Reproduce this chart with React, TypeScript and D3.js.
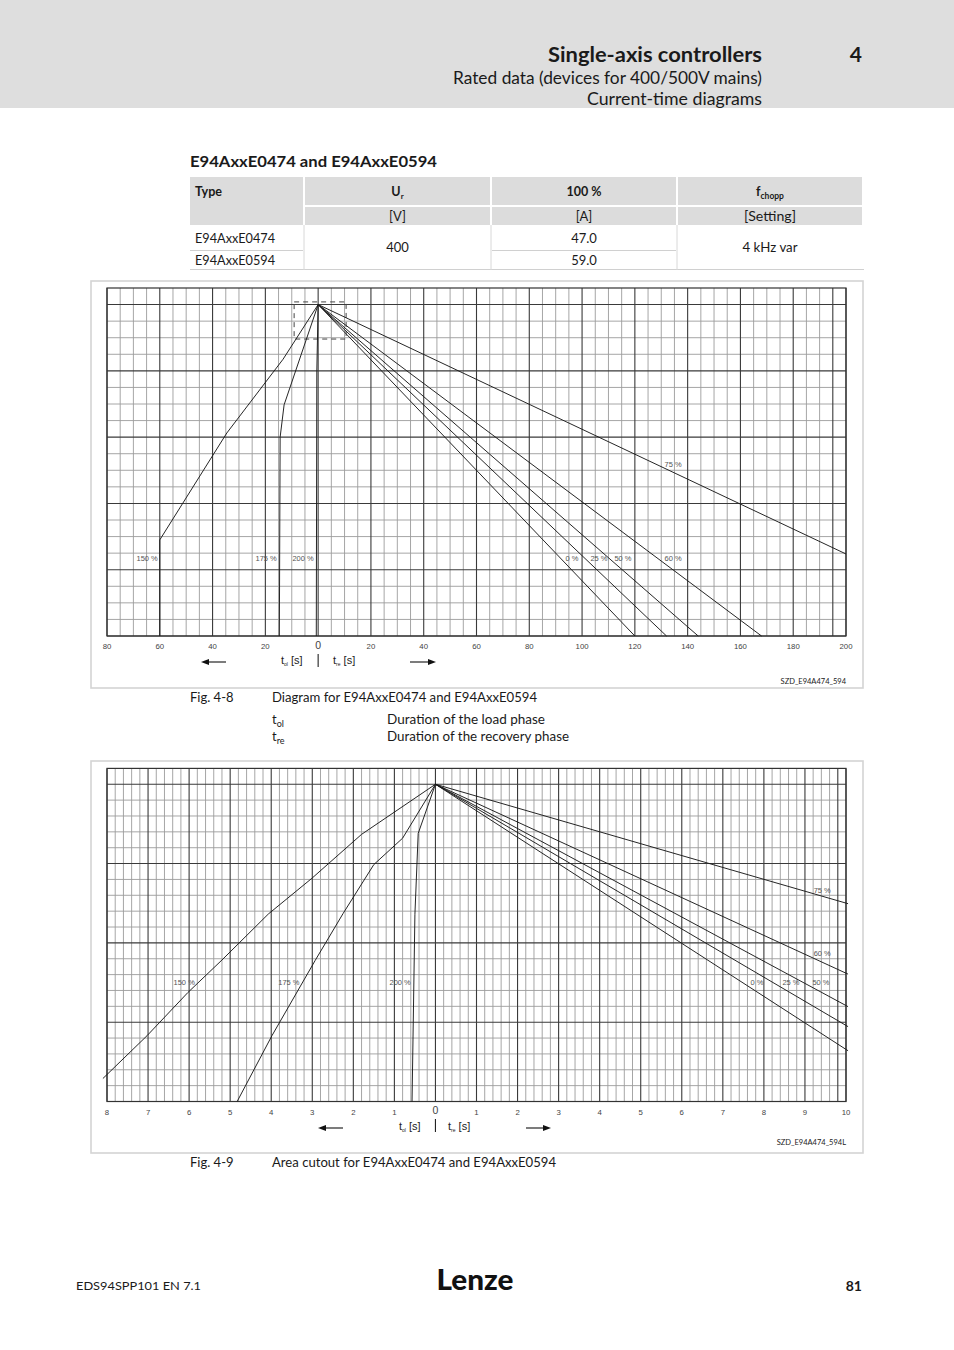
import React from 'react';
import * as d3 from 'd3';

// ---------------- page text ----------------
const headerTitle = 'Single-axis controllers';
const headerChapter = '4';
const headerSub1 = 'Rated data (devices for 400/500V mains)';
const headerSub2 = 'Current-time diagrams';
const sectionTitle = 'E94AxxE0474 and E94AxxE0594';
const tableTypes = ['E94AxxE0474', 'E94AxxE0594'];
const tableVoltage = '400';
const tableCurrents = ['47.0', '59.0'];
const tableChopper = '4 kHz var';

// ---------------- Fig. 4-8 data (time in s, level in grid rows) ----------------
const fig8LeftTicks = [80, 60, 40, 20];
const fig8RightTicks = [20, 40, 60, 80, 100, 120, 140, 160, 180, 200];
const fig8LoadNames = ['150 %', '175 %', '200 %'];
const fig8Load150 = [[0, 20], [13.3, 16.7], [34.6, 12.25], [60, 5.8], [60, 0]];
const fig8Load175 = [[0, 20], [12.9, 13.95], [14.4, 12.0], [14.7, 0]];
const fig8Load200 = [[0, 20], [0.5, 16.0], [0.7, 0]];
const fig8RecNames = ['0 %', '25 %', '50 %', '60 %', '75 %'];
const fig8Rec0 = [[0, 20], [120, 0]];
const fig8Rec25 = [[0, 20], [132, 0]];
const fig8Rec50 = [[0, 20], [144, 0]];
const fig8Rec60 = [[0, 20], [168, 0]];
const fig8Rec75 = [[0, 20], [200, 4.95]];

// ---------------- Fig. 4-9 data ----------------
const fig9LeftTicks = [8, 7, 6, 5, 4, 3, 2, 1];
const fig9RightTicks = [1, 2, 3, 4, 5, 6, 7, 8, 9, 10];
const fig9LoadNames = ['150 %', '175 %', '200 %'];
const fig9Load150 = [[0, 20], [1.8, 16.84], [3.01, 14.07], [4.07, 11.82], [5.2, 8.92], [6.03, 6.87], [7.02, 4.16], [8.1, 1.45]];
const fig9Load175 = [[0, 20], [0.8, 16.6], [1.5, 14.94], [2.25, 11.85], [2.93, 8.89], [3.98, 4.16], [4.83, 0]];
const fig9Load200 = [[0, 20], [0.42, 16.9], [0.5, 11.8], [0.57, 0]];
const fig9RecNames = ['0 %', '25 %', '50 %', '60 %', '75 %'];
const fig9Rec0 = [[0, 20], [10.05, 3.2]];
const fig9Rec25 = [[0, 20], [10.05, 4.72]];
const fig9Rec50 = [[0, 20], [10.05, 5.98]];
const fig9Rec60 = [[0, 20], [10.05, 8.03]];
const fig9Rec75 = [[0, 20], [10.05, 12.47]];

// ---------------- layout configs ----------------
const DOC = 'Lato, "Noto Sans", sans-serif';
const ARIAL = '"Liberation Sans", Arial, sans-serif';

const fig8 = {
  frame: { x0: 91, x1: 863, y0: 281, y1: 688 },
  plot: { x0: 107, x1: 846, yTop: 288, yBottom: 636 },
  xMin: -80, xMax: 200, minorStep: 5, majorStep: 20, extraMajors: [195],
  rowsPerMajor: 4,
  leftTicks: fig8LeftTicks, rightTicks: fig8RightTicks,
  load: [fig8Load150, fig8Load175, fig8Load200],
  rec: [fig8Rec0, fig8Rec25, fig8Rec50, fig8Rec60, fig8Rec75],
  loadNames: fig8LoadNames, recNames: fig8RecNames,
  loadLabelAt: [[-64.8, 4.7], [-19.7, 4.7], [-5.7, 4.7]],
  recLabelAt: [[96.2, 4.7], [106.4, 4.7], [115.5, 4.7], [134.5, 4.7], [134.5, 10.38]],
  tickY: 649, zeroY: 649,
  axisY: 664, barTop: 654, barBot: 667,
  tolX: 281, treX: 333, arrowY: 662,
  arrowL: [226, 201], arrowR: [410, 436],
  code: 'SZD_E94A474_594', codeY: 684,
  box: { t0: -9.1, t1: 10.6, l0: 17.92, l1: 20.16 },
};

const fig9 = {
  frame: { x0: 91, x1: 863, y0: 761, y1: 1153 },
  plot: { x0: 107, x1: 846, yTop: 768.4, yBottom: 1101.5 },
  xMin: -8, xMax: 10, minorStep: 0.2, majorStep: 1, extraMajors: [9.8],
  rowsPerMajor: 5,
  leftTicks: fig9LeftTicks, rightTicks: fig9RightTicks,
  load: [fig9Load150, fig9Load175, fig9Load200],
  rec: [fig9Rec0, fig9Rec25, fig9Rec50, fig9Rec60, fig9Rec75],
  loadNames: fig9LoadNames, recNames: fig9RecNames,
  loadLabelAt: [[-6.12, 7.53], [-3.57, 7.53], [-0.86, 7.53]],
  recLabelAt: [[7.83, 7.53], [8.66, 7.53], [9.39, 7.53], [9.42, 9.36], [9.42, 13.33]],
  tickY: 1115, zeroY: 1114,
  axisY: 1130, barTop: 1119, barBot: 1132,
  tolX: 399, treX: 448, arrowY: 1128,
  arrowL: [343, 318], arrowR: [526, 551],
  code: 'SZD_E94A474_594L', codeY: 1145,
  box: null as any,
};

function T(props: any) {
  const { x, y, children, size = 13, weight = 400, anchor = 'start', len, family = DOC, fill = '#1a1a1a' } = props;
  return (
    <text x={x} y={y} fontSize={size} fontWeight={weight} textAnchor={anchor} fontFamily={family} fill={fill}
      textLength={len} lengthAdjust={len ? 'spacingAndGlyphs' : undefined}>
      {children}
    </text>
  );
}

function Chart({ c }: { c: any }) {
  const x = d3.scaleLinear().domain([c.xMin, c.xMax]).range([c.plot.x0, c.plot.x1]);
  const y = d3.scaleLinear().domain([0, 21]).range([c.plot.yBottom, c.plot.yTop]);
  const n = Math.round((c.xMax - c.xMin) / c.minorStep);
  const vLines = d3.range(n + 1).map((i) => +(c.xMin + i * c.minorStep).toFixed(6));
  const isMajor = (v: number) =>
    Math.abs(v / c.majorStep - Math.round(v / c.majorStep)) < 1e-6 || c.extraMajors.some((e: number) => Math.abs(e - v) < 1e-6);
  const rows = d3.range(0, 22);
  const loadLine = d3.line<number[]>().x((d) => x(-d[0])).y((d) => y(d[1]));
  const recLine = d3.line<number[]>().x((d) => x(d[0])).y((d) => y(d[1]));
  const arrow = (x0: number, x1: number, yy: number) => {
    const dir = Math.sign(x1 - x0);
    return (
      <g>
        <line x1={x0} y1={yy} x2={x1 - dir * 7} y2={yy} stroke="#111" strokeWidth={1.1} />
        <path d={`M${x1},${yy} L${x1 - dir * 8},${yy - 3} L${x1 - dir * 8},${yy + 3} Z`} fill="#111" />
      </g>
    );
  };
  return (
    <g>
      <rect x={c.frame.x0} y={c.frame.y0} width={c.frame.x1 - c.frame.x0} height={c.frame.y1 - c.frame.y0}
        fill="#fff" stroke="#d4d4d4" strokeWidth={1.6} />
      {vLines.filter((v) => !isMajor(v)).map((v, i) => (
        <line key={'vm' + i} x1={x(v)} x2={x(v)} y1={c.plot.yTop} y2={c.plot.yBottom} stroke="#9c9c9c" strokeWidth={0.9} />
      ))}
      {rows.filter((r) => r % c.rowsPerMajor !== 0 && r !== 21).map((r) => (
        <line key={'hm' + r} x1={c.plot.x0} x2={c.plot.x1} y1={y(r)} y2={y(r)} stroke="#9c9c9c" strokeWidth={0.9} />
      ))}
      {vLines.filter((v) => isMajor(v)).map((v, i) => (
        <line key={'vM' + i} x1={x(v)} x2={x(v)} y1={c.plot.yTop} y2={c.plot.yBottom} stroke="#3a3a3a" strokeWidth={1.1} />
      ))}
      {rows.filter((r) => r % c.rowsPerMajor === 0).map((r) => (
        <line key={'hM' + r} x1={c.plot.x0} x2={c.plot.x1} y1={y(r)} y2={y(r)} stroke="#3a3a3a" strokeWidth={1.1} />
      ))}
      <rect x={c.plot.x0} y={c.plot.yTop} width={c.plot.x1 - c.plot.x0} height={c.plot.yBottom - c.plot.yTop}
        fill="none" stroke="#333" strokeWidth={1.2} />
      {c.box && (
        <rect x={x(c.box.t0)} y={y(c.box.l1)} width={x(c.box.t1) - x(c.box.t0)} height={y(c.box.l0) - y(c.box.l1)}
          fill="none" stroke="#444" strokeWidth={1} strokeDasharray="5,4" />
      )}
      {c.load.map((s: number[][], i: number) => (
        <path key={'l' + i} d={loadLine(s) || ''} fill="none" stroke="#1a1a1a" strokeWidth={0.95} />
      ))}
      {c.rec.map((s: number[][], i: number) => (
        <path key={'r' + i} d={recLine(s) || ''} fill="none" stroke="#1a1a1a" strokeWidth={0.95} />
      ))}
      {c.loadNames.map((name: string, i: number) => (
        <text key={'ln' + i} x={x(c.loadLabelAt[i][0])} y={y(c.loadLabelAt[i][1])} dy="0.35em" fontSize={7.5}
          fontFamily={ARIAL} fill="#555" textAnchor="middle">{name}</text>
      ))}
      {c.recNames.map((name: string, i: number) => (
        <text key={'rn' + i} x={x(c.recLabelAt[i][0])} y={y(c.recLabelAt[i][1])} dy="0.35em" fontSize={7.5}
          fontFamily={ARIAL} fill="#555" textAnchor="middle">{name}</text>
      ))}
      {c.leftTicks.map((v: number) => (
        <text key={'lt' + v} x={x(-v)} y={c.tickY} fontSize={7.8} fontFamily={ARIAL} fill="#444" textAnchor="middle">{v}</text>
      ))}
      {c.rightTicks.map((v: number) => (
        <text key={'rt' + v} x={x(v)} y={c.tickY} fontSize={7.8} fontFamily={ARIAL} fill="#444" textAnchor="middle">{v}</text>
      ))}
      <text x={x(0)} y={c.zeroY} fontSize={10.5} fontFamily={ARIAL} fill="#444" textAnchor="middle">0</text>
      <text x={c.tolX} y={c.axisY} fontSize={11} fontFamily={ARIAL} fill="#222">
        t<tspan fontSize={5} dy={1.5}>ol</tspan><tspan dy={-1.5}> [s]</tspan>
      </text>
      <line x1={x(0)} x2={x(0)} y1={c.barTop} y2={c.barBot} stroke="#222" strokeWidth={1.1} />
      <text x={c.treX} y={c.axisY} fontSize={11} fontFamily={ARIAL} fill="#222">
        t<tspan fontSize={5} dy={1.5}>re</tspan><tspan dy={-1.5}> [s]</tspan>
      </text>
      {arrow(c.arrowL[0], c.arrowL[1], c.arrowY)}
      {arrow(c.arrowR[0], c.arrowR[1], c.arrowY)}
      <T x={846} y={c.codeY} size={7.5} anchor="end" fill="#222">{c.code}</T>
    </g>
  );
}

export default function App() {
  const colX = [190, 305, 492, 678, 864];
  const colC = [0, 1, 2, 3].map((i) => (colX[i] + colX[i + 1] - 2) / 2);
  const gray = '#dcdcdc';
  return (
    <svg width={954} height={1350} style={{ position: 'absolute', left: 0, top: 0, background: '#fff' }}>
      <rect x={0} y={0} width={954} height={1350} fill="#fff" />
      <rect x={0} y={0} width={954} height={108} fill="#dedede" />
      <T x={762} y={62} size={21} weight={700} anchor="end" len={214}>{headerTitle}</T>
      <T x={862} y={62} size={21} weight={700} anchor="end">{headerChapter}</T>
      <T x={762} y={84} size={16.5} anchor="end" len={309}>{headerSub1}</T>
      <T x={762} y={105} size={16.5} anchor="end" len={175}>{headerSub2}</T>

      <T x={190} y={167} size={16} weight={700} len={247}>{sectionTitle}</T>

      <rect x={colX[0]} y={177} width={colX[1] - colX[0] - 2} height={48} fill={gray} />
      {[1, 2, 3].map((i) => (
        <g key={'hc' + i}>
          <rect x={colX[i]} y={177} width={colX[i + 1] - colX[i] - 2} height={28} fill={gray} />
          <rect x={colX[i]} y={207} width={colX[i + 1] - colX[i] - 2} height={18} fill={gray} />
        </g>
      ))}
      <T x={195} y={196} size={12.5} weight={700} len={27}>Type</T>
      <text x={colC[1]} y={196} fontSize={12.5} fontWeight={700} fontFamily={DOC} textAnchor="middle" fill="#1a1a1a">
        U<tspan fontSize={8} dy={3}>r</tspan>
      </text>
      <T x={colC[2]} y={196} size={12.5} weight={700} anchor="middle">100 %</T>
      <text x={colC[3]} y={196} fontSize={12.5} fontWeight={700} fontFamily={DOC} textAnchor="middle" fill="#1a1a1a">
        f<tspan fontSize={8.5} dy={3}>chopp</tspan>
      </text>
      <T x={colC[1]} y={221} size={13} anchor="middle">[V]</T>
      <T x={colC[2]} y={221} size={13} anchor="middle">[A]</T>
      <T x={colC[3]} y={221} size={13} anchor="middle" len={52}>[Setting]</T>
      <line x1={colX[0]} x2={colX[1] - 2} y1={250.5} y2={250.5} stroke="#d0d0d0" strokeWidth={1} />
      <line x1={colX[2]} x2={colX[3] - 2} y1={250.5} y2={250.5} stroke="#d0d0d0" strokeWidth={1} />
      <line x1={colX[0]} x2={colX[4]} y1={269.5} y2={269.5} stroke="#d0d0d0" strokeWidth={1} />
      {[1, 2, 3].map((i) => (
        <line key={'vs' + i} x1={colX[i] - 1} x2={colX[i] - 1} y1={225} y2={270} stroke="#d8d8d8" strokeWidth={1} />
      ))}
      <T x={195} y={243} size={13} len={80}>{tableTypes[0]}</T>
      <T x={195} y={265} size={13} len={80}>{tableTypes[1]}</T>
      <T x={colC[1]} y={252} size={13} anchor="middle">{tableVoltage}</T>
      <T x={colC[2]} y={243} size={13} anchor="middle">{tableCurrents[0]}</T>
      <T x={colC[2]} y={265} size={13} anchor="middle">{tableCurrents[1]}</T>
      <T x={colC[3]} y={252} size={13} anchor="middle" len={55}>{tableChopper}</T>

      <Chart c={fig8} />
      <T x={190} y={702} size={13}>Fig. 4-8</T>
      <T x={272} y={702} size={13} len={265}>Diagram for E94AxxE0474 and E94AxxE0594</T>
      <text x={272} y={724} fontSize={13} fontFamily={DOC} fill="#1a1a1a">t<tspan fontSize={9} dy={3}>ol</tspan></text>
      <T x={387} y={724} size={13} len={158}>Duration of the load phase</T>
      <text x={272} y={741} fontSize={13} fontFamily={DOC} fill="#1a1a1a">t<tspan fontSize={9} dy={3}>re</tspan></text>
      <T x={387} y={741} size={13} len={182}>Duration of the recovery phase</T>

      <Chart c={fig9} />
      <T x={190} y={1167} size={13}>Fig. 4-9</T>
      <T x={272} y={1167} size={13} len={284}>Area cutout for E94AxxE0474 and E94AxxE0594</T>

      <T x={76} y={1290} size={11} len={125}>EDS94SPP101  EN  7.1</T>
      <T x={475} y={1290} size={29} weight={900} anchor="middle" len={77} fill="#111">Lenze</T>
      <T x={862} y={1291} size={14} weight={700} anchor="end">81</T>
    </svg>
  );
}
